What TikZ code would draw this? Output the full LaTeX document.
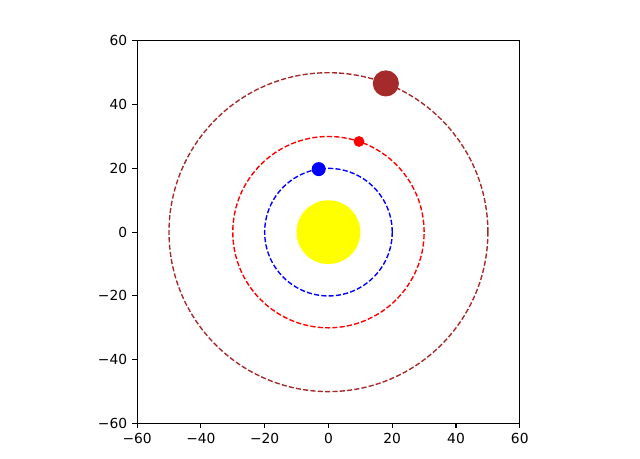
\documentclass[tikz,border=0pt]{standalone}
\usepackage{fontspec}
\setmainfont{DejaVu Sans}
\usetikzlibrary{positioning}
\definecolor{sunYellow}{RGB}{255,255,0}
\definecolor{orbitBlue}{RGB}{0,0,255}
\definecolor{orbitRed}{RGB}{255,0,0}
\definecolor{orbitBrown}{RGB}{165,42,42}
\tikzset{
    orbit/.style={line width=1pt, dash pattern=on 3.7pt off 1.6pt},
    spine/.style={line width=0.8pt, black},
    ticklbl/.style={inner sep=0pt, font=\normalsize}
}

\begin{document}
\begin{tikzpicture}[x=0.081cm,y=0.081cm]
    \useasboundingbox (-103,-71.1) rectangle (97.7,72.8);
    \coordinate (sun) at (0,0);
    \coordinate (inner) at (98.8:20);
    \coordinate (middle) at (71.4:30);
    \coordinate (outer) at (68.9:50);

    % orbits
    \draw[orbit, orbitBlue] (sun) circle (20);
    \draw[orbit, orbitRed] (sun) circle (30);
    \draw[orbit, orbitBrown] (sun) circle (50);

    % bodies
    \fill[sunYellow] (sun) circle (10);
    \fill[orbitBlue] (inner) circle (2.2);
    \fill[orbitRed] (middle) circle (1.7);
    \fill[orbitBrown] (outer) circle (4.1);

    % frame and ticks
    \draw[spine] (-60,-60) rectangle (60,60);
    \foreach \t in {-60,-40,...,60} {
        \pgfmathtruncatemacro\tabs{abs(\t)}
        \draw[spine] (\t,-60) -- ++(0,-3.5pt) coordinate (xt\t);
        \node[ticklbl, below=3.5pt of xt\t] (xl\t) {\ifnum\t<0 −\fi\tabs};
        \draw[spine] (-60,\t) -- ++(-3.5pt,0) coordinate (yt\t);
        \node[ticklbl, left=3.5pt of yt\t] (yl\t) {\ifnum\t<0 −\fi\tabs};
    }
\end{tikzpicture}
\end{document}
